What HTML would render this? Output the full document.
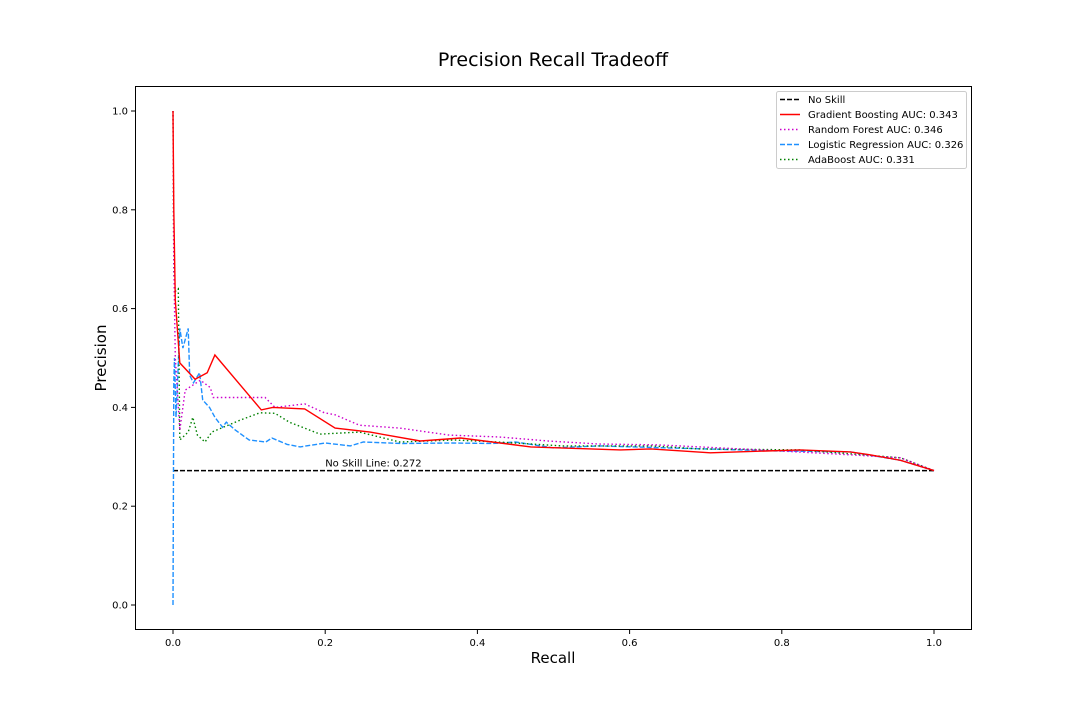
<!DOCTYPE html>
<html><head><meta charset="utf-8"><style>
body{margin:0;background:#fff;font-family:"DejaVu Sans","Liberation Sans",sans-serif}
</style></head><body>
<svg id="chart" width="1080" height="720" xmlns="http://www.w3.org/2000/svg" font-family="DejaVu Sans, Liberation Sans, sans-serif">
<rect width="1080" height="720" fill="#fff"/>
<text x="553" y="66" text-anchor="middle" font-size="19">Precision Recall Tradeoff</text>
<text x="553" y="663" text-anchor="middle" font-size="15">Recall</text>
<text transform="translate(106,358) rotate(-90)" text-anchor="middle" font-size="15">Precision</text>
<g id="ticks"></g>
<g id="series"></g>
<rect x="135.5" y="86.5" width="836" height="543" fill="none" stroke="#000" stroke-width="1"/>
<g>
<rect x="776.5" y="91.5" width="190" height="77" fill="#fff" stroke="#ccc" rx="2"/>
<line x1="780" y1="99.5" x2="800" y2="99.5" stroke="#000" stroke-width="1.5" stroke-dasharray="5,2"/>
<text x="808" y="103" font-size="10">No Skill</text>
<line x1="780" y1="114.5" x2="800" y2="114.5" stroke="red" stroke-width="1.5"/>
<text x="808" y="118" font-size="10">Gradient Boosting AUC: 0.343</text>
<line x1="780" y1="129.5" x2="800" y2="129.5" stroke="#c0c" stroke-width="1.5" stroke-dasharray="1.5,2.5"/>
<text x="808" y="133" font-size="10">Random Forest AUC: 0.346</text>
<line x1="780" y1="144.5" x2="800" y2="144.5" stroke="#1e90ff" stroke-width="1.5" stroke-dasharray="5,2"/>
<text x="808" y="148" font-size="10">Logistic Regression AUC: 0.326</text>
<line x1="780" y1="159.5" x2="800" y2="159.5" stroke="green" stroke-width="1.5" stroke-dasharray="1.5,2.5"/>
<text x="808" y="163" font-size="10">AdaBoost AUC: 0.331</text>
</g>
</svg>
<script>
const xTicks=[0,0.2,0.4,0.6,0.8,1.0];
const yTicks=[0,0.2,0.4,0.6,0.8,1.0];
const noSkill=0.272;
const gbX=[0,0.001,0.003,0.009,0.029,0.045,0.055,0.116,0.131,0.173,0.213,0.259,0.325,0.378,0.47,0.549,0.588,0.628,0.706,0.824,0.89,0.916,0.956,1.0];
const gbY=[1.0,0.8,0.617,0.49,0.457,0.47,0.506,0.395,0.4,0.397,0.358,0.35,0.332,0.338,0.32,0.316,0.314,0.316,0.308,0.314,0.31,0.304,0.293,0.272];
const rfX=[0,0.001,0.003,0.009,0.016,0.036,0.049,0.053,0.075,0.121,0.134,0.173,0.199,0.213,0.245,0.298,0.363,0.429,0.493,0.559,0.638,0.772,0.89,0.956,1.0];
const rfY=[1.0,0.7,0.5,0.354,0.435,0.455,0.44,0.42,0.42,0.42,0.4,0.407,0.389,0.385,0.364,0.358,0.344,0.34,0.332,0.326,0.324,0.314,0.304,0.298,0.272];
const lrX=[0,0.001,0.002,0.004,0.009,0.013,0.02,0.022,0.027,0.035,0.039,0.048,0.055,0.065,0.07,0.082,0.1,0.122,0.13,0.15,0.167,0.2,0.233,0.25,0.3,0.365,0.42,0.45,0.5,0.56,0.65,0.7,0.79,0.89,0.956,1.0];
const lrY=[0,0.45,0.5,0.38,0.56,0.52,0.56,0.465,0.45,0.47,0.415,0.40,0.38,0.36,0.37,0.354,0.334,0.33,0.338,0.325,0.32,0.328,0.322,0.33,0.327,0.328,0.327,0.33,0.318,0.322,0.318,0.316,0.312,0.31,0.293,0.272];
const abX=[0,0.001,0.003,0.007,0.009,0.02,0.026,0.032,0.042,0.051,0.088,0.114,0.134,0.153,0.193,0.245,0.298,0.37,0.427,0.512,0.63,0.69,0.824,0.956,1.0];
const abY=[1.0,0.67,0.635,0.64,0.334,0.35,0.38,0.344,0.33,0.35,0.374,0.389,0.388,0.37,0.346,0.35,0.33,0.334,0.33,0.322,0.322,0.316,0.314,0.298,0.272];
const NS="http://www.w3.org/2000/svg";
const sx=v=>173+v*761, sy=v=>605-v*494;
const tg=document.getElementById('ticks'), sg=document.getElementById('series');
function mk(tag,attrs,parent){const e=document.createElementNS(NS,tag);for(const k in attrs)e.setAttribute(k,attrs[k]);parent.appendChild(e);return e;}
xTicks.forEach(t=>{const x=sx(t);
 const l=mk('line',{x1:x,x2:x,y1:630,y2:634,stroke:'#000'},tg);
 
 
 const tx=mk('text',{x:x,y:646,'text-anchor':'middle','font-size':10},tg);tx.textContent=t.toFixed(1);
 
 });
yTicks.forEach(t=>{const y=sy(t);
 const l=mk('line',{x1:131,x2:135,y1:y,y2:y,stroke:'#000'},tg);
 
 
 const tx=mk('text',{x:128,y:y+3.5,'text-anchor':'end','font-size':10},tg);tx.textContent=t.toFixed(1);
 
 });
const nl=mk('line',{x1:sx(0),x2:sx(1),y1:sy(noSkill),y2:sy(noSkill),stroke:'#000','stroke-width':1.5,'stroke-dasharray':'5,2'},sg);


const nt=mk('text',{x:sx(0.2),y:sy(noSkill)-4,'font-size':10},sg);nt.textContent='No Skill Line: '+noSkill;


function series(X,Y,color,dash,name){
 const d=X.map((x,i)=>(i?'L':'M')+sx(x).toFixed(1)+','+sy(Y[i]).toFixed(1)).join('');
 const p=mk('path',{d:d,fill:'none',stroke:color,'stroke-width':1.4},sg);
 if(dash)p.setAttribute('stroke-dasharray',dash);
 
 }
series(lrX,lrY,'#1e90ff','5,2','logistic-regression-line');
series(abX,abY,'green','1.5,2.5','adaboost-line');
series(rfX,rfY,'#c0c','1.5,2.5','random-forest-line');
series(gbX,gbY,'red',null,'gradient-boosting-line');
</script>
</body></html>
